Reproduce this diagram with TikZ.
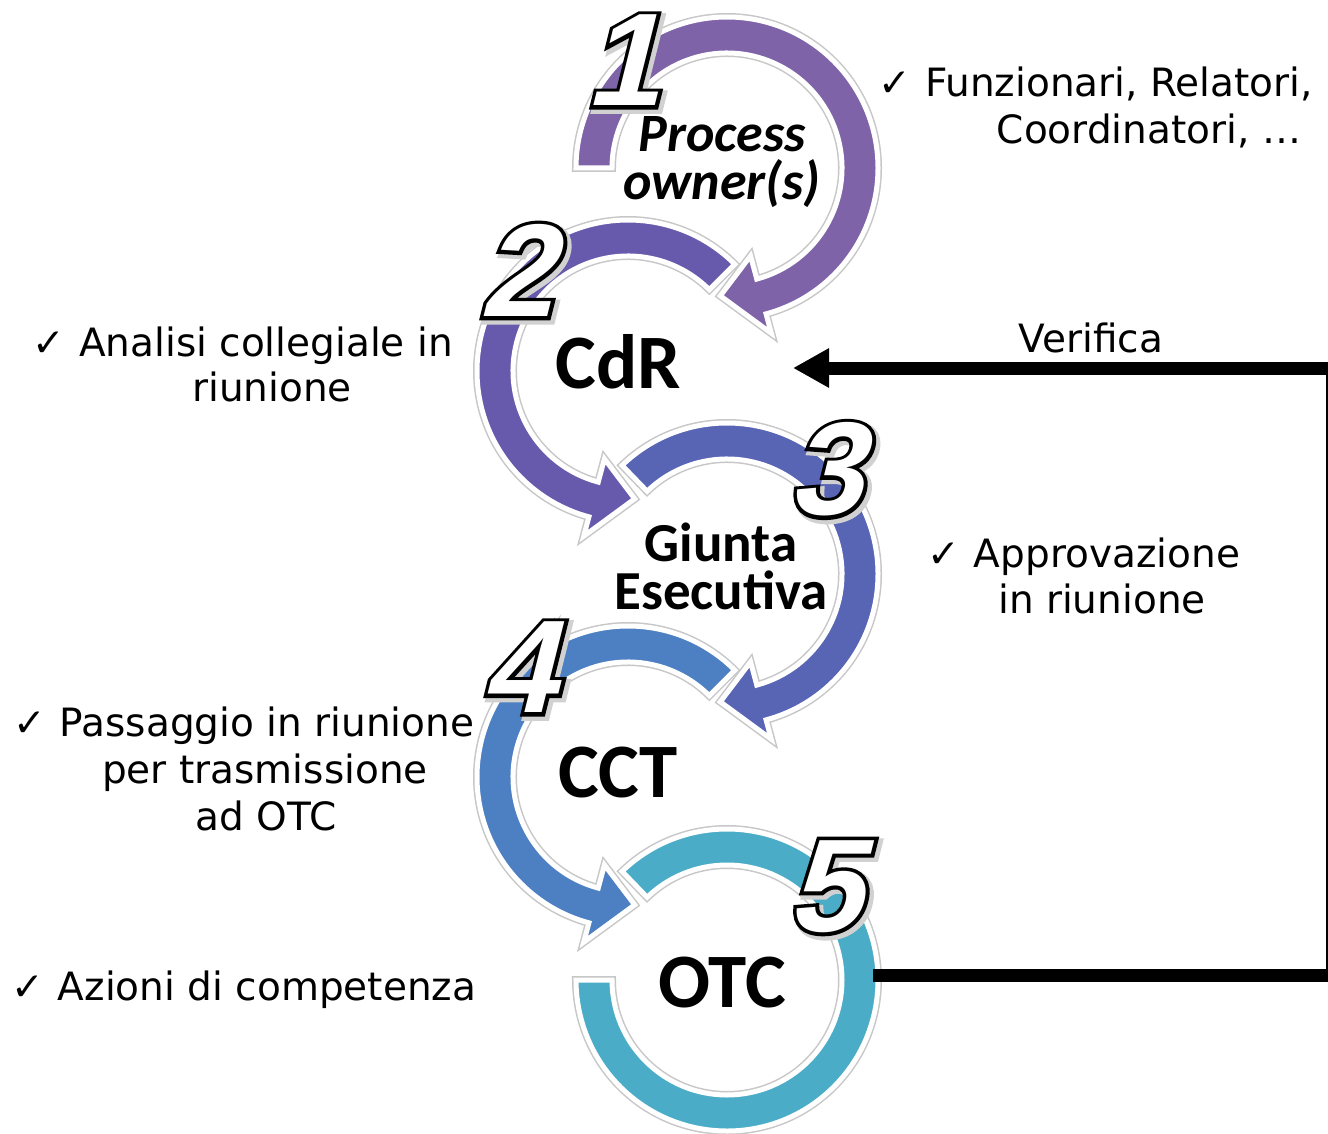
\documentclass[tikz,border=0pt]{standalone}
\usepackage{fontspec}
\setmainfont{DejaVu Sans}
\newfontfamily\calib{Carlito}
\newfontfamily\numfont[FakeSlant=0.25]{Liberation Sans Bold}
\usetikzlibrary{arrows.meta,calc}
\definecolor{cA}{HTML}{7F63A8}
\definecolor{cB}{HTML}{675AAD}
\definecolor{cC}{HTML}{5864B4}
\definecolor{cD}{HTML}{4C80C3}
\definecolor{cE}{HTML}{4AACC6}
\newcommand\ck{\llap{✓\hspace{14pt}}}
% outlined glyphs: grey drop shadow, black outline, white fill on top
\newcommand\outl[1]{%
  \rlap{\hspace{3pt}\raisebox{-3pt}{\color{black!20}\special{pdf:literal direct 2 Tr 10 w 0.82 G}#1\special{pdf:literal direct 0 Tr}}}%
  \rlap{\color{black}\special{pdf:literal direct 2 Tr 7.5 w 0 G}#1\special{pdf:literal direct 0 Tr}}%
  #1}
% band with arrow head: cx, cy, start, back, tip, colour
\newcommand\bandarrow[6]{%
  \begin{scope}[shift={(#1,#2)}]
    \path[draw=black!22, line width=8pt, line join=miter, miter limit=4]
      (#3:151pt) arc[start angle=#3, end angle=#4, radius=151pt]
      -- (#4:171pt) -- (#5:128pt) -- (#4:91pt) -- (#4:115pt)
      arc[start angle=#4, end angle=#3, radius=115pt] -- cycle;
    \path[fill=#6, draw=white, line width=5pt, line join=miter, miter limit=4]
      (#3:151pt) arc[start angle=#3, end angle=#4, radius=151pt]
      -- (#4:171pt) -- (#5:128pt) -- (#4:91pt) -- (#4:115pt)
      arc[start angle=#4, end angle=#3, radius=115pt] -- cycle;
  \end{scope}}
% band without head: cx, cy, start, end, colour
\newcommand\bandring[5]{%
  \begin{scope}[shift={(#1,#2)}]
    \path[draw=black!22, line width=8pt, line join=miter]
      (#3:151pt) arc[start angle=#3, end angle=#4, radius=151pt]
      -- (#4:115pt) arc[start angle=#4, end angle=#3, radius=115pt] -- cycle;
    \path[fill=#5, draw=white, line width=5pt, line join=miter]
      (#3:151pt) arc[start angle=#3, end angle=#4, radius=151pt]
      -- (#4:115pt) arc[start angle=#4, end angle=#3, radius=115pt] -- cycle;
  \end{scope}}
\begin{document}
\begin{tikzpicture}[x=1pt,y=1pt,
  txt/.style={font=\fontsize{39}{46}\selectfont, inner sep=0pt, anchor=base},
  bigname/.style={font=\calib\bfseries\fontsize{77}{80}\selectfont, inner sep=0pt, anchor=base},
  midname/.style={font=\calib\bfseries\fontsize{55}{48}\selectfont, inner sep=0pt, align=center},
  poname/.style={font=\calib\bfseries\itshape\fontsize{54}{48}\selectfont, inner sep=0pt, align=center},
  numst/.style={font=\numfont\fontsize{132}{132}\selectfont, inner sep=0pt, text=white}]
\fill[white] (0,0) rectangle (1328,-1134);
\useasboundingbox (0,0) rectangle (1328,-1134);

% circular arrows
\bandarrow{727}{-168}{180}{-75}{-93}{cA}
\bandarrow{628}{-371}{45}{255}{273}{cB}
\bandarrow{727}{-574}{134}{-75}{-93}{cC}
\bandarrow{628}{-777}{45}{255}{273}{cD}
\bandring{727}{-980}{134}{-180}{cE}

% feedback connector
\coordinate (vs) at (873,-975);
\coordinate (vc1) at (1332,-975);
\coordinate (vc2) at (1332,-368);
\coordinate (ve) at (793,-368);
\draw[line width=13pt, -{Triangle[length=36pt,width=37pt]}] (vs) -- (vc1) -- (vc2) -- (ve);
\node[txt] (verif) at (1091,-352) {Verifica};

% stage names
\node[poname] (po) at (722,-162) {Process\\owner(s)};
\node[bigname] (cdr) at (618,-388) {CdR};
\node[midname] (gi) at (721,-566) {Giunta\\Esecutiva};
\node[bigname] (cct) at (618,-797) {CCT};
\node[bigname] (otc) at (722,-1007) {OTC};

% numbers
\node[numst] (n1) at (622,-62) {\outl{1}};
\node[numst] (n2) at (516,-272) {\outl{2}};
\node[numst] (n3) at (825,-471) {\outl{3}};
\node[numst] (n4) at (518,-669) {\outl{4}};
\node[numst] (n5) at (824,-888) {\outl{5}};

% side notes
\node[txt] (a1) at (1119,-97) {\ck Funzionari, Relatori,};
\node[txt] (a2) at (1149,-144) {Coordinatori, …};
\node[txt] (b1) at (266,-356) {\ck Analisi collegiale in};
\node[txt] (b2) at (272,-401) {riunione};
\node[txt] (c1) at (1107,-567) {\ck Approvazione};
\node[txt] (c2) at (1102,-613) {in riunione};
\node[txt] (d1) at (267,-736) {\ck Passaggio in riunione};
\node[txt] (d2) at (265,-783) {per trasmissione};
\node[txt] (d3) at (266,-830) {ad OTC};
\node[txt] (e1) at (267,-1000) {\ck Azioni di competenza};
\end{tikzpicture}
\end{document}
